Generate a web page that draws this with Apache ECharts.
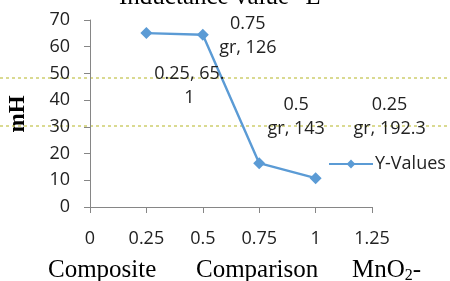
<!DOCTYPE html>
<html>
<head>
<meta charset="utf-8">
<script src="https://cdn.jsdelivr.net/npm/echarts@6/dist/echarts.min.js"></script>
<style>
html, body { margin: 0; padding: 0; background: #fff; }
#chart { width: 450px; height: 281px; }
</style>
</head>
<body>
<div id="chart"></div>
<script>
// values
var xValues = [0.25, 0.5, 0.75, 1];
var yValues = [65.1, 64.5, 16.4, 10.8];
var pointLabels = ['0.25, 65.\n1', '0.75\ngr, 126', '0.5\ngr, 143', '0.25\ngr, 192.3'];
var labelOffsets = [[43, 53], [45, 1], [37, -46], [74, -61]];
var seriesName = 'Y-Values';
var titleText = 'Inductance value "L"';
var yName = 'mH';

var blue = '#5B9BD5';
var numFont = '"Open Sans"';
var serif = '"Liberation Serif"';

var points = [];
for (var i = 0; i < xValues.length; i++) {
	points.push({
		value: [xValues[i], yValues[i]],
		label: {
			show: true,
			formatter: pointLabels[i],
			position: 'inside',
			offset: labelOffsets[i],
			color: '#222',
			fontFamily: numFont,
			fontSize: 18,
			lineHeight: 24,
			align: 'center'
		}
	});
}

var myChart = echarts.init(document.getElementById('chart'));
myChart.setOption({
	animation: false,
	grid: { left: 90, right: 78, top: 20, bottom: 74 },
	xAxis: {
		type: 'value', min: 0, max: 1.25, interval: 0.25,
		splitLine: { show: false },
		axisLine: { lineStyle: { color: '#868686' } },
		axisTick: { length: 6, lineStyle: { color: '#868686' } },
		axisLabel: { margin: 23, color: '#222', fontFamily: numFont, fontSize: 18 }
	},
	yAxis: {
		type: 'value', min: 0, max: 70, interval: 10,
		splitLine: { show: false },
		axisLine: { show: true, lineStyle: { color: '#868686' } },
		axisTick: { show: true, length: 6, lineStyle: { color: '#868686' } },
		axisLabel: { margin: 20, color: '#222', fontFamily: numFont, fontSize: 18 }
	},
	legend: {
		data: [seriesName], left: 323, top: 150,
		itemWidth: 44, itemHeight: 11, itemGap: 4,
		textStyle: { color: '#222', fontFamily: numFont, fontSize: 18, padding: [0, 0, 0, -3] }
	},
	series: [{
		name: seriesName,
		type: 'line',
		data: points,
		symbol: 'diamond',
		symbolSize: 12,
		lineStyle: { color: blue, width: 2.4 },
		itemStyle: { color: blue }
	}],
	graphic: [
		{ type: 'text', x: 225, y: -3,
		  style: { text: titleText, font: '25px ' + serif, fill: '#000', align: 'center', verticalAlign: 'middle' } },
		{ type: 'text', x: 18, y: 114, rotation: Math.PI / 2,
		  style: { text: yName, font: 'bold 23px ' + serif, fill: '#000', align: 'center', verticalAlign: 'middle' } },
		{ type: 'text', x: 48, y: 270,
		  style: { text: 'Composite', font: '25px ' + serif, fill: '#000', verticalAlign: 'middle' } },
		{ type: 'text', x: 196, y: 270,
		  style: { text: 'Comparison', font: '25px ' + serif, fill: '#000', verticalAlign: 'middle' } },
		{ type: 'text', x: 352, y: 270,
		  style: {
			text: '{a|MnO}{s|2}{a|-}',
			verticalAlign: 'middle',
			rich: {
				a: { font: '25px ' + serif, fill: '#000' },
				s: { font: '16px ' + serif, fill: '#000', padding: [12, 0, 0, 0] }
			}
		  } },
		{ type: 'line', shape: { x1: 0, y1: 78, x2: 450, y2: 78 },
		  style: { stroke: '#c2c24a', lineWidth: 1.2, lineDash: [3, 3] } },
		{ type: 'line', shape: { x1: 0, y1: 126, x2: 450, y2: 126 },
		  style: { stroke: '#c2c24a', lineWidth: 1.2, lineDash: [3, 3] } }
	]
});
</script>
</body>
</html>
